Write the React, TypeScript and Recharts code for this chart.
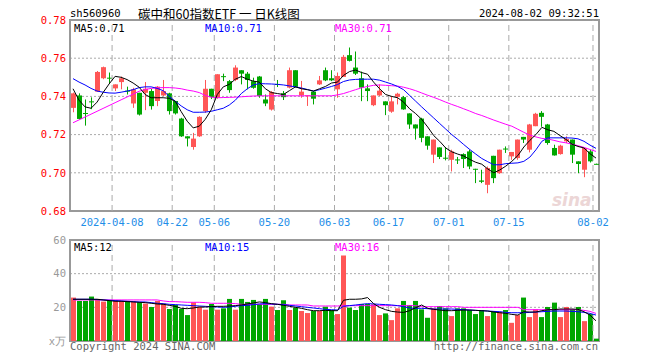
import {
  ComposedChart, Bar, Line, XAxis, YAxis, CartesianGrid,
  ReferenceLine, ReferenceArea
} from "recharts";

const DATES = [
  "03-26","03-27","03-28","03-29",
  "04-01","04-02","04-03","04-08","04-09","04-10","04-11","04-12","04-15","04-16","04-17","04-18","04-19",
  "04-22","04-23","04-24","04-25","04-26","04-29","04-30",
  "05-06","05-07","05-08","05-09","05-10","05-13","05-14","05-15","05-16","05-17",
  "05-20","05-21","05-22","05-23","05-24","05-27","05-28","05-29","05-30","05-31",
  "06-03","06-04","06-05","06-06","06-07","06-11","06-12","06-13","06-14",
  "06-17","06-18","06-19","06-20","06-21","06-24","06-25","06-26","06-27","06-28",
  "07-01","07-02","07-03","07-04","07-05","07-08","07-09","07-10","07-11","07-12",
  "07-15","07-16","07-17","07-18","07-19","07-22","07-23","07-24","07-25","07-26",
  "07-29","07-30","07-31","08-01","08-02",
];

const OPEN = [
  0.734,0.7405,0.7313,0.7374,0.7425,0.7495,0.7498,0.7442,0.7475,0.743,
  0.7363,0.7419,0.7419,0.7428,0.7376,0.7405,0.7416,0.7376,0.7284,0.7191,
  0.7135,0.7191,0.7323,0.744,0.7393,0.7506,0.748,0.7486,0.7537,0.7519,
  0.748,0.7504,0.7384,0.7331,0.7465,0.7416,0.7446,0.7537,0.7405,0.7403,
  0.7425,0.7463,0.7537,0.7495,0.7437,0.7502,0.7616,0.7551,0.7495,0.7442,
  0.7354,0.7405,0.7374,0.732,0.7398,0.7396,0.7311,0.7253,0.7284,0.7191,
  0.7095,0.7133,0.7079,0.7068,0.707,0.7098,0.7112,0.7021,0.696,0.6937,
  0.7089,0.6998,0.7127,0.7086,0.7077,0.7188,0.7121,0.7244,0.7314,0.7253,
  0.713,0.7098,0.7165,0.7174,0.706,0.7016,0.7112,0.7047,
];
const HIGH = [
  0.742,0.7416,0.7384,0.7395,0.7533,0.7556,0.7525,0.7463,0.7504,0.7451,
  0.7445,0.7419,0.7475,0.744,0.7454,0.7486,0.7419,0.7376,0.7288,0.7191,
  0.7209,0.7296,0.7486,0.744,0.7516,0.7519,0.7486,0.7563,0.7537,0.7528,
  0.7498,0.7507,0.741,0.7428,0.7486,0.7428,0.7551,0.7537,0.7481,0.7405,
  0.7428,0.7507,0.7551,0.7537,0.7525,0.7617,0.7656,0.7635,0.753,0.7463,
  0.7405,0.7463,0.7374,0.7402,0.7419,0.7402,0.7311,0.7253,0.7288,0.7191,
  0.7174,0.7133,0.7135,0.7121,0.7083,0.7102,0.7121,0.7021,0.7016,0.7033,
  0.7089,0.7121,0.7138,0.7109,0.7174,0.7188,0.7256,0.7314,0.7323,0.7256,
  0.7147,0.7147,0.7191,0.7174,0.706,0.713,0.7121,0.7048,
];
const LOW = [
  0.7317,0.7279,0.7247,0.7333,0.7425,0.749,0.7467,0.7428,0.7437,0.741,
  0.734,0.73,0.7328,0.7331,0.7349,0.7402,0.7305,0.7305,0.7188,0.7138,
  0.7121,0.7188,0.7314,0.7386,0.7388,0.748,0.7419,0.748,0.7463,0.7437,
  0.744,0.7393,0.7349,0.7326,0.7449,0.7381,0.7442,0.7446,0.7393,0.735,
  0.7358,0.746,0.748,0.748,0.7393,0.7502,0.7583,0.7512,0.7375,0.7375,
  0.7349,0.7402,0.7302,0.7314,0.7358,0.733,0.723,0.7174,0.716,0.7121,
  0.7051,0.7072,0.7065,0.7007,0.7046,0.7025,0.7019,0.6946,0.6946,0.6893,
  0.6946,0.6995,0.7104,0.7068,0.7068,0.7156,0.7107,0.7244,0.7241,0.7147,
  0.709,0.7095,0.7156,0.7051,0.6998,0.6977,0.7054,0.7045,
];
const CLOSE = [
  0.7416,0.7282,0.7309,0.737,0.7528,0.7553,0.7494,0.7463,0.7495,0.7426,
  0.7437,0.7305,0.744,0.7349,0.7451,0.7428,0.7323,0.7311,0.7191,0.718,
  0.7179,0.7293,0.744,0.7396,0.7516,0.7502,0.7433,0.7551,0.7519,0.7486,
  0.7445,0.7402,0.7363,0.7423,0.746,0.7396,0.7537,0.745,0.7425,0.7406,
  0.7388,0.7484,0.7484,0.7484,0.7507,0.7607,0.7586,0.7519,0.7446,0.7428,
  0.7405,0.743,0.7354,0.7374,0.7414,0.7332,0.7253,0.7232,0.7183,0.7142,
  0.7174,0.7083,0.7075,0.7112,0.7066,0.7072,0.7033,0.7017,0.6953,0.7025,
  0.6972,0.7121,0.7123,0.7109,0.7174,0.7174,0.7253,0.7309,0.7293,0.7156,
  0.7091,0.7142,0.7177,0.7095,0.7046,0.713,0.706,0.7045,
];

const MA5 = [
  0.744,0.738,0.7345,0.7338,0.737,0.742,0.7465,0.7505,0.75,0.7488,
  0.747,0.7448,0.741,0.7393,0.7393,0.7393,0.739,0.7375,0.732,0.727,
  0.7235,0.7244,0.728,0.733,0.741,0.745,0.7463,0.749,0.7504,0.749,
  0.748,0.7475,0.744,0.742,0.7415,0.741,0.743,0.745,0.744,0.7435,
  0.7428,0.744,0.7452,0.747,0.7475,0.751,0.753,0.7538,0.7525,0.7516,
  0.7475,0.744,0.741,0.74,0.7393,0.737,0.7335,0.731,0.728,0.724,
  0.7195,0.7165,0.713,0.711,0.7098,0.7088,0.707,0.7055,0.7045,0.702,
  0.70,0.7015,0.7035,0.706,0.709,0.7135,0.717,0.72,0.7238,0.7225,
  0.7217,0.7195,0.7175,0.715,0.7138,0.713,0.71,0.7077,
];
const MA10 = [
  0.7493,0.7475,0.746,0.7442,0.7428,0.7422,0.7418,0.7417,0.7422,0.7428,
  0.7435,0.7446,0.745,0.745,0.7442,0.743,0.74,0.7375,0.735,0.733,
  0.7317,0.7317,0.7318,0.7322,0.733,0.7338,0.7355,0.738,0.7415,0.744,
  0.746,0.7467,0.7466,0.7465,0.7463,0.746,0.7455,0.745,0.7444,0.7436,
  0.7428,0.7435,0.7443,0.7452,0.7462,0.7478,0.7486,0.7489,0.749,0.749,
  0.749,0.7485,0.7475,0.7465,0.7452,0.7435,0.7405,0.7375,0.7345,0.7316,
  0.7287,0.7258,0.7229,0.72,0.7175,0.7148,0.7122,0.7098,0.7075,0.7058,
  0.7042,0.7042,0.7048,0.705,0.7052,0.706,0.7082,0.712,0.7165,0.7183,
  0.7183,0.7183,0.7183,0.7182,0.7178,0.7165,0.7145,0.7128,
];
const MA30 = [
  0.7262,0.7277,0.7292,0.7307,0.7322,0.7337,0.7352,0.7367,0.7382,0.7397,
  0.7412,0.7427,0.7436,0.7442,0.7445,0.7446,0.7446,0.7444,0.744,0.7433,
  0.7428,0.742,0.7405,0.7396,0.7393,0.7394,0.7395,0.7396,0.7398,0.74,
  0.7402,0.7403,0.7403,0.7403,0.7403,0.7403,0.7403,0.7403,0.7403,0.7403,
  0.7403,0.7403,0.7403,0.7403,0.7408,0.7415,0.7425,0.7435,0.7445,0.7452,
  0.7458,0.746,0.7458,0.7456,0.7454,0.7448,0.744,0.743,0.7418,0.7406,
  0.7395,0.7383,0.737,0.7358,0.7347,0.7335,0.7323,0.731,0.73,0.7288,
  0.7276,0.7265,0.7254,0.7244,0.7228,0.7212,0.7197,0.7188,0.718,0.7177,
  0.717,0.7162,0.7157,0.715,0.7142,0.7133,0.7122,0.7112,
];

// volume, in 10k
const VOLUME = [
  25.8,23.8,23.8,26.4,25,23.4,24.2,24.2,23.8,23.8,
  23.4,23,22.2,20.2,23.8,22.2,19,21.4,19,15.4,
  23,20.2,18.6,22,18.6,19.4,25,18.6,25,23.2,
  24.4,21.8,25,20.4,18.4,24.2,18.4,19.8,17.8,16.6,
  17.8,17.8,20.4,18.4,16,50.8,19.8,18.4,22,22,
  21.8,15.4,16.4,12.4,19.4,23.8,21.4,23.8,18.8,13.8,
  19.4,20.8,19.4,14.8,19.4,19.4,18.4,16,18.4,14.8,
  17.8,17.4,18.4,10.8,15.4,25.8,14.2,18.8,14.2,20.2,
  22.8,14.2,20.2,18.8,20.2,11.8,16,1.4,
];
const VOL_MA5 = [
  24.8,24.8,24.8,24.8,24.8,24.4,24,23.6,23.6,23.4,
  23.2,23,22.8,22.4,22,21.8,21.2,20.6,19.4,19.2,
  19.6,20.2,20.2,20.4,20.6,20.6,20.8,21,21.4,22,
  22.6,23.2,22.8,22.2,21.8,21.2,20.6,20,19.4,18.6,
  18,18,18.2,18,18,24.2,24.8,24.8,25,25.8,
  22.2,20,18.6,17.6,17.2,17,18,19.8,21.4,19.4,
  18.8,18.4,18,18,18.2,18.4,18.4,18.2,18,17.8,
  17.2,16.8,16.4,15.8,15.4,17.4,17.2,17.2,18,18.6,
  18.6,19,19,19,18.8,17.4,15.4,12,
];
const VOL_MA10 = [
  24.8,24.8,24.8,24.8,24.6,24.4,24.2,24,23.8,23.6,
  23.4,23.2,23.2,22.8,22.4,22.2,21.8,21.6,21.4,21.2,
  21,20.8,20.6,20.4,20.2,20,20.2,20.6,21,21.2,
  21.6,22,22.2,22,21.8,21.6,21.2,20.8,20.4,20,
  19.6,19.2,18.8,18.6,18.4,20.6,21,21.4,21.8,22.2,
  22,21.8,21.6,21.4,21,20.4,19.6,19.4,19.4,19.2,
  19,19,19,19,18.8,18.6,18.4,18.2,18,17.8,
  17.6,17.4,17,16.8,16.8,16.8,17,17.2,17.4,17.6,
  17.8,17.8,17.8,17.6,17.4,17,16.4,15.4,
];
const VOL_MA30 = [
  24.4,24.4,24.4,24.4,24.4,24.4,24.4,24.4,24.4,24.4,
  24.4,24.4,24.4,24.4,24.4,23.8,23.4,23.4,23.2,23,
  23,23,22.8,22.4,22.4,22.4,22.4,22.2,21.8,21.8,
  21.8,21.8,21.8,21.8,21.8,21.8,21.4,21.4,21.4,21.4,
  20.8,20.8,20.8,20.8,20.8,21,21,21,21,21,
  21,21,21,21,21,21,21,21,20.4,20.4,
  20.4,20.4,20.4,20.4,20.4,20,20,20,20,20,
  20,20,20,20,20,18.6,18.6,18.6,18.6,18.6,
  18.6,18.6,18.6,18.6,18.6,18.2,17.6,16.4,
];

const DATE_TICKS = ["04-08","04-22","05-06","05-20","06-03","06-17","07-01","07-15","08-02"];
const PRICE_TICKS = [0.68, 0.70, 0.72, 0.74, 0.76, 0.78];
const VOL_TICKS = [0, 20, 40, 60];

const RED = "#ff5656";
const GREEN = "#00a600";
const GRID = "#aaaaaa";
const FRAME = "#999999";
const MONO = '"DejaVu Sans Mono", monospace';

const rows = DATES.map((date, i) => ({
  date,
  open: OPEN[i], high: HIGH[i], low: LOW[i], close: CLOSE[i],
  ma5: MA5[i], ma10: MA10[i], ma30: MA30[i],
  vol: VOLUME[i], vma5: VOL_MA5[i], vma10: VOL_MA10[i], vma30: VOL_MA30[i],
}));

const last = rows.length - 1;

function Candle(props: any) {
  const { x, y, width, height, payload } = props;
  const { open, close, high, low } = payload;
  const color = close >= open ? RED : GREEN;
  const top0 = Math.min(y, y + height);
  const h0 = Math.abs(height);
  const k = high - low > 0 ? h0 / (high - low) : 0;
  const py = (v: number) => top0 + (high - v) * k;
  const cx = Math.floor(x + width / 2) + 0.5;
  const bodyTop = py(Math.max(open, close));
  const bodyH = Math.max(1, py(Math.min(open, close)) - bodyTop);
  return (
    <g>
      <line x1={cx} x2={cx} y1={top0} y2={top0 + h0} stroke={color} strokeWidth={1} />
      <rect x={cx - 2.5} y={bodyTop} width={5} height={bodyH} fill={color} />
    </g>
  );
}

function VolBar(props: any) {
  const { x, y, width, height, payload } = props;
  const color = payload.close >= payload.open ? RED : GREEN;
  const cx = Math.floor(x + width / 2) + 0.5;
  return <rect x={cx - 2.5} y={y} width={5} height={Math.max(0, height)} fill={color} />;
}

// date grid lines sit on the left edge of the candle slot
function DashLine(p: any) {
  return (
    <line x1={p.x1 - 3} x2={p.x2 - 3} y1={p.y1} y2={p.y2}
      stroke={GRID} strokeWidth={1} strokeDasharray="6 4" />
  );
}

function DateTick({ x, y, payload }: any) {
  const label = payload.value === DATE_TICKS[0] ? "2024-" + payload.value : payload.value;
  return (
    <text x={x - 3} y={y + 11} textAnchor="middle" dominantBaseline="central"
      fill="#1e8ee8" fontSize={10.5} fontFamily={MONO}>
      {label}
    </text>
  );
}

export default function App() {
  return (
    <div style={{ position: "fixed", left: 0, top: 0, width: 660, height: 360, background: "#fff" }}>
      <div style={{ position: "absolute", left: 0, top: 0 }}>
        <ComposedChart width={660} height={230} data={rows}
          margin={{ top: 20, right: 61, bottom: 0, left: 8 }}>
          <CartesianGrid vertical={false} stroke={GRID} strokeDasharray="2 2" />
          <XAxis dataKey="date" ticks={DATE_TICKS} interval={0} height={19}
            tickLine={false} axisLine={false} tickSize={0} tickMargin={0}
            tick={<DateTick />} />
          <YAxis domain={[0.68, 0.78]} ticks={PRICE_TICKS} allowDataOverflow width={62}
            tickLine={false} axisLine={false} tickSize={0} tickMargin={4}
            tick={{ fill: "#ff0000", fontSize: 10.5, fontFamily: MONO }}
            tickFormatter={(v: number) => v.toFixed(2)} />
          {DATE_TICKS.map(d => (
            <ReferenceLine key={d} x={d} stroke={GRID} shape={DashLine} />
          ))}
          <ReferenceArea y1={0.68} y2={0.78} fill="none" stroke={FRAME} strokeWidth={2} />
          <Bar dataKey={(d: any) => [d.low, d.high]} shape={(p: any) => <Candle {...p} />}
            isAnimationActive={false} />
          <Line type="linear" dataKey="ma30" stroke="#ff00ff" strokeWidth={1} dot={false} isAnimationActive={false} />
          <Line type="linear" dataKey="ma10" stroke="#0000ff" strokeWidth={1} dot={false} isAnimationActive={false} />
          <Line type="linear" dataKey="ma5" stroke="#000000" strokeWidth={1} dot={false} isAnimationActive={false} />
        </ComposedChart>
      </div>
      <div style={{ position: "absolute", left: 0, top: 230 }}>
        <ComposedChart width={660} height={130} data={rows}
          margin={{ top: 10, right: 61, bottom: 19, left: 8 }}>
          <CartesianGrid vertical={false} stroke={GRID} strokeDasharray="2 2" />
          <XAxis dataKey="date" hide />
          <YAxis domain={[0, 60]} ticks={VOL_TICKS} allowDataOverflow width={62}
            tickLine={false} axisLine={false} tickSize={0} tickMargin={4}
            tick={{ fill: "#999999", fontSize: 10.5, fontFamily: MONO }}
            tickFormatter={(v: number) => (v === 0 ? "x万" : String(v))} />
          {DATE_TICKS.map(d => (
            <ReferenceLine key={d} x={d} stroke={GRID} shape={DashLine} />
          ))}
          <ReferenceArea y1={0} y2={60} fill="none" stroke={FRAME} strokeWidth={2} />
          <Bar dataKey="vol" shape={(p: any) => <VolBar {...p} />} isAnimationActive={false} />
          <Line type="linear" dataKey="vma30" stroke="#ff00ff" strokeWidth={1} dot={false} isAnimationActive={false} />
          <Line type="linear" dataKey="vma10" stroke="#0000ff" strokeWidth={1} dot={false} isAnimationActive={false} />
          <Line type="linear" dataKey="vma5" stroke="#000000" strokeWidth={1} dot={false} isAnimationActive={false} />
        </ComposedChart>
      </div>
      <svg width={660} height={360} style={{ position: "absolute", left: 0, top: 0, pointerEvents: "none" }}>
        <g fontFamily={MONO} fontSize={10.5} dominantBaseline="central">
          <text x={70} y={13} fill="#000">sh560960</text>
          <text x={599} y={13} fill="#000" textAnchor="end">2024-08-02 09:32:51</text>
          <text x={74} y={28} fill="#000">MA5:{MA5[last].toFixed(2)}</text>
          <text x={205} y={28} fill="#0000ff">MA10:{MA10[last].toFixed(2)}</text>
          <text x={335} y={28} fill="#ff00ff">MA30:{MA30[last].toFixed(2)}</text>
          <text x={74} y={247} fill="#000">MA5:{Math.round(VOL_MA5[last])}</text>
          <text x={205} y={247} fill="#0000ff">MA10:{Math.round(VOL_MA10[last])}</text>
          <text x={335} y={247} fill="#ff00ff">MA30:{Math.round(VOL_MA30[last])}</text>
          <text x={70} y={346} fill="#666">Copyright 2024 SINA.COM</text>
          <text x={598} y={346} fill="#666" textAnchor="end">http://finance.sina.com.cn</text>
        </g>
        <text x={138} y={13} dominantBaseline="central" fill="#000" fontSize={12.5}
          fontFamily='"Noto Sans CJK SC", sans-serif'>碳中和60指数ETF 一 日K线图</text>
        <text x={552} y={206} fill="#ecd6d6" fontSize={17} fontStyle="italic" fontWeight="bold"
          fontFamily="Verdana, 'DejaVu Sans', sans-serif">sina</text>
      </svg>
    </div>
  );
}
